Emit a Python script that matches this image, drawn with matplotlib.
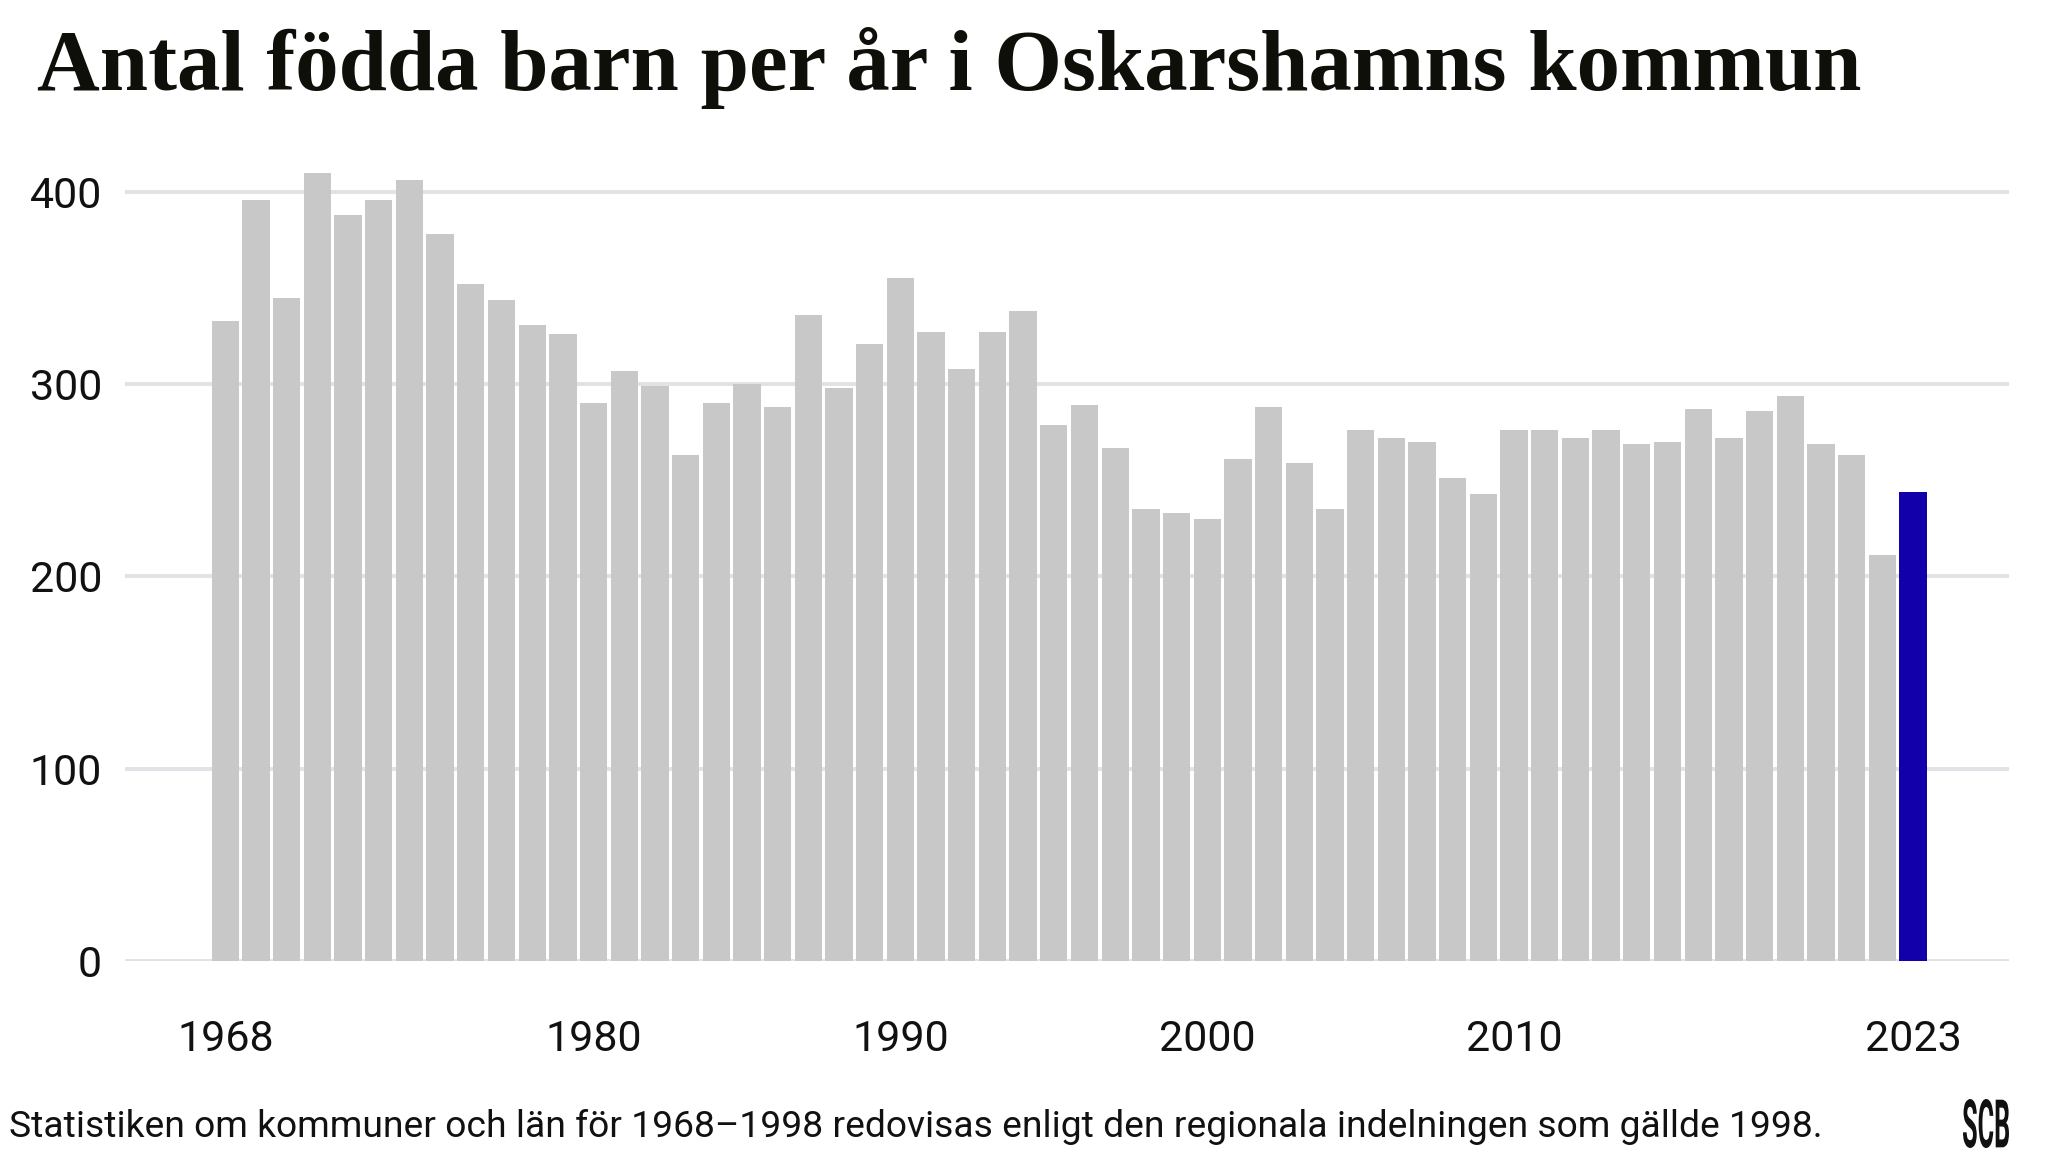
import matplotlib
matplotlib.use("Agg")
import matplotlib.pyplot as plt
from matplotlib.textpath import TextPath
from matplotlib.patches import PathPatch
from matplotlib.font_manager import FontProperties
from matplotlib.transforms import Affine2D

years = list(range(1968, 2024))
births = [333, 396, 345, 410, 388, 396, 406, 378, 352, 344,
          331, 326, 290, 307, 299, 263, 290, 300, 288, 336,
          298, 321, 355, 327, 308, 327, 338, 279, 289, 267,
          235, 233, 230, 261, 288, 259, 235, 276, 272, 270,
          251, 243, 276, 276, 272, 276, 269, 270, 287, 272,
          286, 294, 269, 263, 211, 244]
tick_years = [1968, 1980, 1990, 2000, 2010, 2023]
yticks = [0, 100, 200, 300, 400]

title = "Antal födda barn per år i Oskarshamns kommun"
footer = "Statistiken om kommuner och län för 1968–1998 redovisas enligt den regionala indelningen som gällde 1998."

W, H = 2048, 1152
fig = plt.figure(figsize=(W / 100, H / 100), dpi=100)
fig.patch.set_facecolor("white")

left, right = 125, 2009
y0, ytop = 961, 153.5
ax = fig.add_axes([left / W, 1 - y0 / H, (right - left) / W, (y0 - ytop) / H])

colors = ["#c8c8c8"] * (len(years) - 1) + ["#1200ab"]
ax.bar(years, births, width=0.89, color=colors, zorder=3)

ax.set_xlim(1964.73, 2026.13)
ax.set_ylim(0, 420)
ax.set_yticks(yticks)
ax.set_yticklabels([str(v) for v in yticks])
ax.set_xticks(tick_years)
ax.set_xticklabels([str(v) for v in tick_years])
for s in ax.spines.values():
    s.set_visible(False)
ax.grid(axis="y", color="#e2e2e6", linewidth=2.8, zorder=0)
ax.tick_params(axis="both", length=0, labelsize=31, colors="#111111")
ax.tick_params(axis="y", pad=16.5)
ax.tick_params(axis="x", pad=42)
for lab in ax.get_xticklabels() + ax.get_yticklabels():
    lab.set_fontfamily("Roboto")

fig.text(37 / W, 1 - 90 / H, title, fontsize=62.6, fontweight="bold",
         family="Liberation Serif", color="#0f0f0a", ha="left", va="baseline")
fig.text(9 / W, 1 - 1137 / H, footer, fontsize=26.8, family="Roboto",
         color="#111111", ha="left", va="baseline")

# SCB logo (condensed lettering)
tp = TextPath((0, 0), "SCB", size=100,
              prop=FontProperties(family="Roboto", weight="bold"))
bb = tp.get_extents()
sx = 46 / bb.width
sy = 49 / bb.height
tr = Affine2D().translate(-bb.x0, -bb.y0).scale(sx, sy).translate(1963, H - 1148)
fig.add_artist(PathPatch(tp, transform=tr, facecolor="#111111", lw=0))

fig.savefig("out.png", dpi=100)
